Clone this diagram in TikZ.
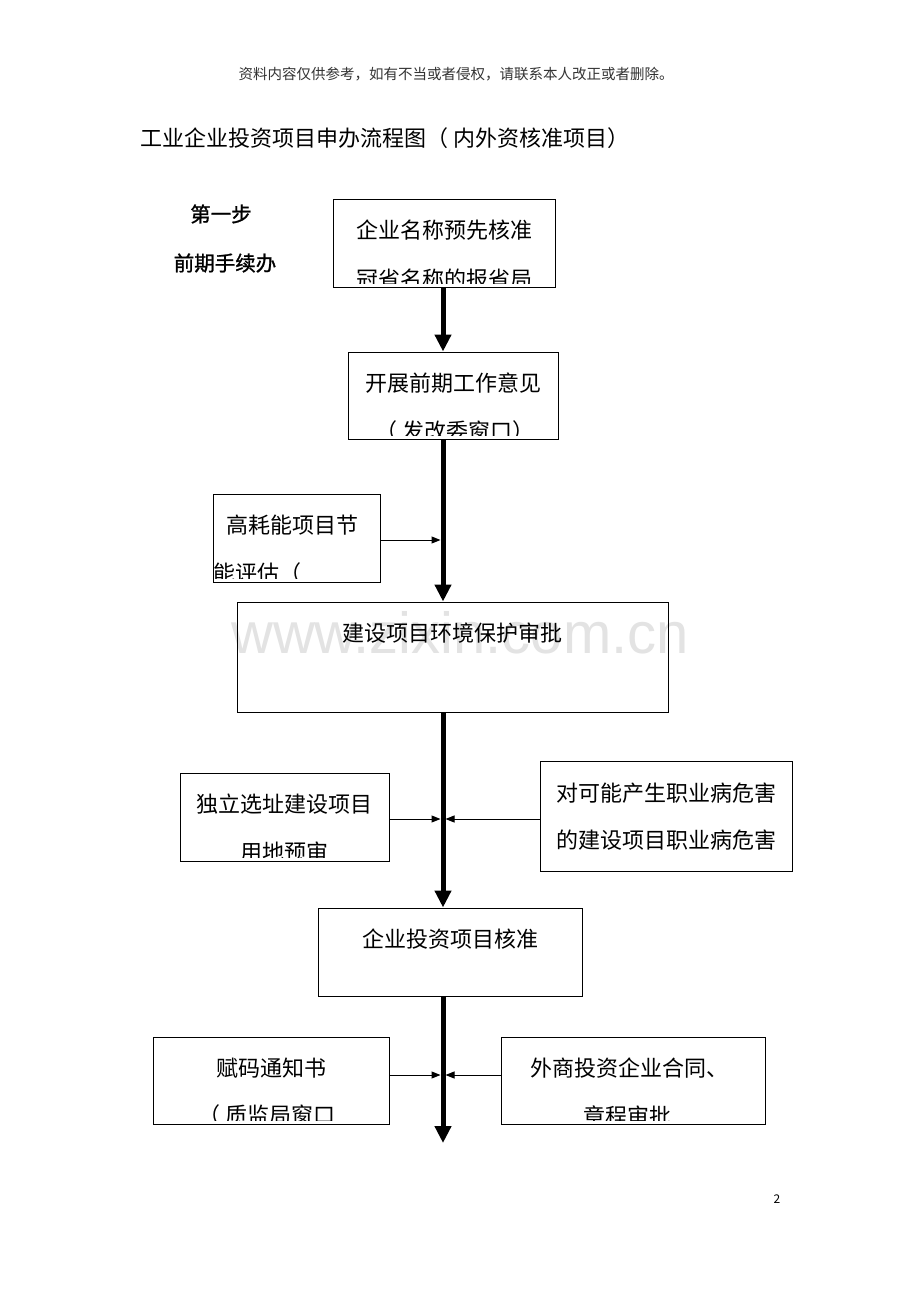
\documentclass[tikz,border=0pt]{standalone}
\usepackage{fontspec}
\setmainfont{Noto Sans CJK SC}
\newfontfamily\cjkbf[FakeBold=1.2]{Noto Sans CJK SC}
\newfontfamily\wmfont{Liberation Sans}
\usetikzlibrary{arrows.meta,positioning,calc}

\begin{document}
\begin{tikzpicture}
      [ x=1pt, y=-1pt,
        box/.style={draw, line width=1pt, inner sep=0pt},
        line/.style={inner sep=0pt, font=\fontsize{22}{22}\selectfont},
        main/.style={line width=5pt, -{Triangle[width=16pt,length=17pt]}},
        side/.style={line width=1pt, -{Triangle[width=7pt,length=9pt]}, shorten >=2.5pt}
      ]
      \fill[white] (0,0) rectangle (920,1302);
      \useasboundingbox (0,0) rectangle (920,1302);

      \node[text=black!11, font=\wmfont\fontsize{58}{58}\selectfont, anchor=base, inner sep=0pt]
            (watermark) at (460,653) {www.zixin.com.cn};

      \node[text=black!80, font=\fontsize{14.5}{14.5}\selectfont, inner sep=0pt]
            (note) at (456,74) {资料内容仅供参考，如有不当或者侵权，请联系本人改正或者删除。};
      \node[anchor=west, font=\fontsize{22}{22}\selectfont, inner sep=0pt]
            (title) at (140,138) {工业企业投资项目申办流程图（\ 内外资核准项目）};
      \node[font=\cjkbf\fontsize{20.5}{20.5}\selectfont, inner sep=0pt] (step)  at (221,214) {第一步};
      \node[font=\cjkbf\fontsize{20.5}{20.5}\selectfont, inner sep=0pt] (stage) at (225,263) {前期手续办};

      \node[box, minimum width=222pt, minimum height=88pt]  (mingcheng) at (444,243)    {};
      \node[box, minimum width=210pt, minimum height=87pt]  (yijian)    at (453,395.5)  {};
      \node[box, minimum width=167pt, minimum height=88pt]  (jieneng)   at (296.5,538)  {};
      \node[box, minimum width=431pt, minimum height=110pt] (huanbao)   at (452.5,657)  {};
      \node[box, minimum width=209pt, minimum height=88pt]  (yudi)      at (284.5,817)  {};
      \node[box, minimum width=252pt, minimum height=110pt] (zhiye)     at (666,816)    {};
      \node[box, minimum width=264pt, minimum height=88pt]  (hezhun)    at (450,952)    {};
      \node[box, minimum width=236pt, minimum height=87pt]  (fuma)      at (271,1080.5) {};
      \node[box, minimum width=264pt, minimum height=87pt]  (waishang)  at (633,1080.5) {};

      \node[line] (mingcheng1) at ([yshift=-32pt]mingcheng.north) {企业名称预先核准};
      \node[line] (yijian1)    at ([yshift=-32pt]yijian.north)    {开展前期工作意见};
      \node[line, anchor=west] (jieneng1) at ([xshift=14pt,yshift=-32pt]jieneng.north west) {高耗能项目节};
      \node[line] (huanbao1)   at ([yshift=-32pt]huanbao.north)   {建设项目环境保护审批};
      \node[line] (yudi1)      at ([yshift=-32pt]yudi.north)      {独立选址建设项目};
      \node[line] (zhiye1)     at ([yshift=-33pt]zhiye.north)     {对可能产生职业病危害};
      \node[line] (zhiye2)     at ([yshift=-80pt]zhiye.north)     {的建设项目职业病危害};
      \node[line] (hezhun1)    at ([yshift=-32pt]hezhun.north)    {企业投资项目核准};
      \node[line] (fuma1)      at ([yshift=-32pt]fuma.north)      {赋码通知书};
      \node[line] (waishang1)  at ([xshift=-4pt,yshift=-32pt]waishang.north) {外商投资企业合同、};

      \begin{scope}
        \clip ([yshift=4pt]mingcheng.south west) rectangle (mingcheng.north east);
        \node[line] (mingcheng2) at ([yshift=-81pt]mingcheng.north) {冠省名称的报省局};
      \end{scope}
      \begin{scope}
        \clip ([yshift=4pt]yijian.south west) rectangle (yijian.north east);
        \node[line] (yijian2) at ([xshift=2pt,yshift=-80pt]yijian.north) {（\ 发改委窗口）};
      \end{scope}
      \begin{scope}
        \clip ([yshift=4pt]jieneng.south west) rectangle (jieneng.north east);
        \node[line, anchor=west] (jieneng2) at ([xshift=1pt,yshift=-80pt]jieneng.north west) {能评估（};
      \end{scope}
      \begin{scope}
        \clip ([yshift=4pt]yudi.south west) rectangle (yudi.north east);
        \node[line] (yudi2) at ([yshift=-80pt]yudi.north) {用地预审};
      \end{scope}
      \begin{scope}
        \clip ([yshift=4pt]fuma.south west) rectangle (fuma.north east);
        \node[line] (fuma2) at ([xshift=-4pt,yshift=-79pt]fuma.north) {（\ 质监局窗口};
      \end{scope}
      \begin{scope}
        \clip ([yshift=4pt]waishang.south west) rectangle (waishang.north east);
        \node[line] (waishang2) at ([xshift=-6pt,yshift=-79pt]waishang.north) {章程审批};
      \end{scope}

      \coordinate (spine) at (443,0);
      \coordinate (end)   at (443,1143);

      \draw[main] (mingcheng.south -| spine) -- (yijian.north -| spine);
      \draw[main] (yijian.south -| spine)    -- (huanbao.north -| spine);
      \draw[main] (huanbao.south -| spine)   -- (hezhun.north -| spine);
      \draw[main] (hezhun.south -| spine)    -- (end);

      \draw[side] ([yshift=-2pt]jieneng.east)  -- ([yshift=-2pt]jieneng.east -| spine);
      \draw[side] ([yshift=-2pt]yudi.east)     -- ([yshift=-2pt]yudi.east -| spine);
      \draw[side] ([yshift=-3pt]zhiye.west)    -- ([yshift=-3pt]zhiye.west -| spine);
      \draw[side] ([yshift=5.5pt]fuma.east)    -- ([yshift=5.5pt]fuma.east -| spine);
      \draw[side] ([yshift=5.5pt]waishang.west) -- ([yshift=5.5pt]waishang.west -| spine);

      \node[font=\fontsize{12}{12}\selectfont, inner sep=0pt] (page) at (777,1199) {2};
\end{tikzpicture}
\end{document}
